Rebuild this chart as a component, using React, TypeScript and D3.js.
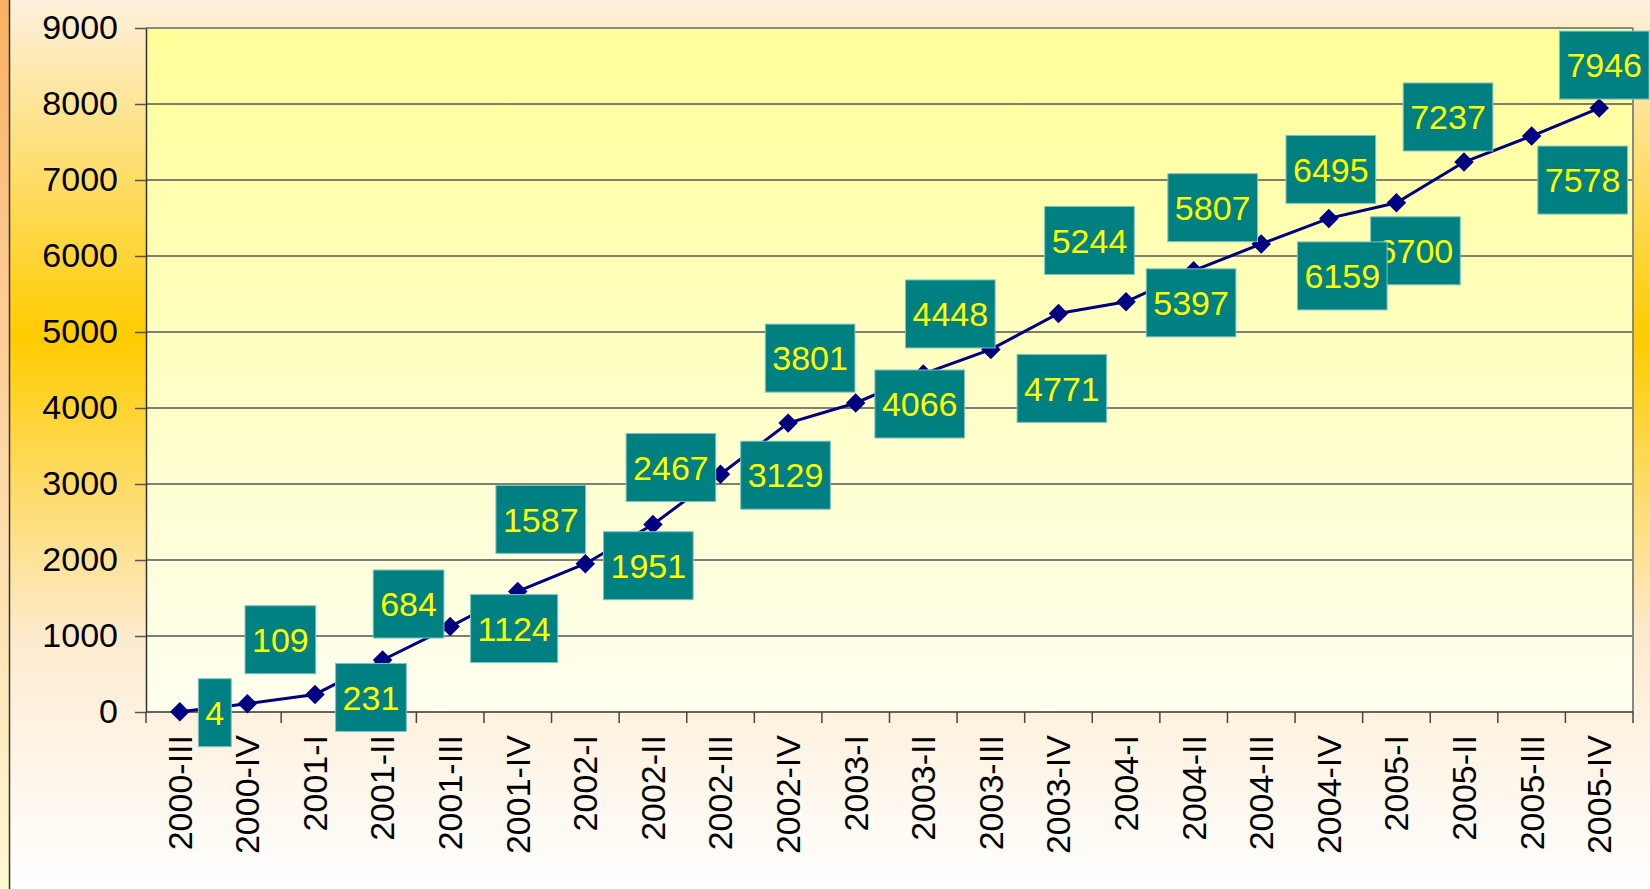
import { useEffect, useRef } from 'react'
import * as d3 from 'd3'

const quarters = [
  '2000-III', '2000-IV',
  '2001-I', '2001-II', '2001-III', '2001-IV',
  '2002-I', '2002-II', '2002-III', '2002-IV',
  '2003-I', '2003-II', '2003-III', '2003-IV',
  '2004-I', '2004-II', '2004-III', '2004-IV',
  '2005-I', '2005-II', '2005-III', '2005-IV',
]

const counts = [
  4, 109, 231, 684, 1124, 1587, 1951, 2467, 3129, 3801, 4066,
  4448, 4771, 5244, 5397, 5807, 6159, 6495, 6700, 7237, 7578, 7946,
]

const yTicks = [0, 1000, 2000, 3000, 4000, 5000, 6000, 7000, 8000, 9000]

// label box nudges (px) relative to the point, as placed by hand in the original
const labelNudge: [number, number][] = [
  [35, 1], [33, -64], [56, 3], [26, -56], [64, 2], [23, -72],
  [63, 2], [18, -57], [65, 1], [22, -65], [64, 1], [27, -60],
  [71, 39], [31, -73], [65, 1], [19, -63], [81, 32], [2, -49],
  [19, 48], [-16, -45], [51, 44], [5, -43],
]

const W = 1650
const H = 889
const FONT = '"Liberation Sans", Arial, Helvetica, sans-serif'

export default function App() {
  const svgRef = useRef<SVGSVGElement>(null)

  useEffect(() => {
    if (!svgRef.current) return
    const svg = d3.select(svgRef.current)
    svg.selectAll('*').remove()

    const margin = { top: 28, right: 17, bottom: 177, left: 146 }
    const innerW = W - margin.left - margin.right
    const innerH = H - margin.top - margin.bottom

    const defs = svg.append('defs')
    const bg = defs.append('linearGradient').attr('id', 'bg').attr('x1', 0).attr('x2', 0).attr('y1', 0).attr('y2', 1)
    bg.append('stop').attr('offset', '0').attr('stop-color', '#fdf0dc')
    bg.append('stop').attr('offset', '0.38').attr('stop-color', '#ffcc00')
    bg.append('stop').attr('offset', '0.72').attr('stop-color', '#fdebd0')
    bg.append('stop').attr('offset', '1').attr('stop-color', '#ffffff')

    const strip = defs.append('linearGradient').attr('id', 'strip').attr('x1', 0).attr('x2', 0).attr('y1', 0).attr('y2', 1)
    strip.append('stop').attr('offset', '0').attr('stop-color', '#fbb060')
    strip.append('stop').attr('offset', '0.3').attr('stop-color', '#fdc890')
    strip.append('stop').attr('offset', '1').attr('stop-color', '#fff8d0')

    const plotBg = defs.append('linearGradient').attr('id', 'plotbg').attr('x1', 0).attr('x2', 0).attr('y1', 0).attr('y2', 1)
    plotBg.append('stop').attr('offset', '0').attr('stop-color', '#ffff99')
    plotBg.append('stop').attr('offset', '1').attr('stop-color', '#fffff0')

    // page background
    svg.append('rect').attr('width', W).attr('height', H).attr('fill', 'url(#bg)')
    svg.append('rect').attr('width', 9).attr('height', H).attr('fill', 'url(#strip)')
    svg.append('line')
      .attr('x1', 9.5).attr('x2', 9.5).attr('y1', 0).attr('y2', H)
      .attr('stroke', '#333').attr('stroke-width', 1.5)

    const g = svg.append('g').attr('transform', `translate(${margin.left},${margin.top})`)

    const x = d3.scaleBand().domain(quarters).range([0, innerW]).padding(0)
    const y = d3.scaleLinear().domain([0, 9000]).range([innerH, 0])

    g.append('rect').attr('width', innerW).attr('height', innerH).attr('fill', 'url(#plotbg)')

    // Grid
    g.selectAll('.grid')
      .data(yTicks.filter(t => t > 0 && t < 9000))
      .join('line')
      .attr('x1', 0).attr('x2', innerW)
      .attr('y1', d => y(d)).attr('y2', d => y(d))
      .attr('stroke', '#555').attr('stroke-width', 1.5)

    // frame top / right
    g.append('line').attr('x1', 0).attr('x2', innerW).attr('y1', 0).attr('y2', 0)
      .attr('stroke', '#888').attr('stroke-width', 2)
    g.append('line').attr('x1', innerW).attr('x2', innerW).attr('y1', 0).attr('y2', innerH)
      .attr('stroke', '#888').attr('stroke-width', 2)

    // Y axis
    const yAxis = g.append('g')
      .call(d3.axisLeft(y).tickValues(yTicks).tickFormat(d3.format('d')).tickSize(11).tickSizeOuter(0).tickPadding(17))
    yAxis.select('.domain').attr('stroke', '#333').attr('stroke-width', 1.5)
    yAxis.selectAll('.tick line').attr('stroke', '#555').attr('stroke-width', 1.5)
    yAxis.selectAll('.tick text')
      .attr('fill', '#000').attr('font-size', 34).attr('font-family', FONT)

    // X axis
    g.append('line').attr('x1', 0).attr('x2', innerW).attr('y1', innerH).attr('y2', innerH)
      .attr('stroke', '#333').attr('stroke-width', 1.5)
    g.selectAll('.xtick')
      .data(d3.range(quarters.length + 1))
      .join('line')
      .attr('x1', i => i * x.step()).attr('x2', i => i * x.step())
      .attr('y1', innerH).attr('y2', innerH + 11)
      .attr('stroke', '#444').attr('stroke-width', 1.5)
    g.selectAll('.xlab')
      .data(quarters)
      .join('text')
      .attr('transform', d => `translate(${(x(d) ?? 0) + x.bandwidth() / 2},${innerH + 23}) rotate(-90)`)
      .attr('dy', '0.35em')
      .attr('text-anchor', 'end')
      .attr('fill', '#000')
      .attr('font-size', 34)
      .attr('font-family', FONT)
      .text(d => d)

    const px = (i: number) => (x(quarters[i]) ?? 0) + x.bandwidth() / 2

    // Line
    const line = d3.line<number>().x((_, i) => px(i)).y(d => y(d))
    g.append('path')
      .datum(counts)
      .attr('d', line)
      .attr('fill', 'none')
      .attr('stroke', '#000080')
      .attr('stroke-width', 3)

    // Markers
    const diamond = d3.symbol().type(d3.symbolSquare).size(190)
    g.selectAll('.pt')
      .data(counts)
      .join('path')
      .attr('d', diamond)
      .attr('transform', (d, i) => `translate(${px(i)},${y(d)}) rotate(45)`)
      .attr('fill', '#000080')

    // Data labels (drawn last-first so earlier ones sit on top, as in the original)
    const labels = g.append('g')
    counts.map((v, i) => i).reverse().forEach(i => {
      const v = counts[i]
      const [dx, dy] = labelNudge[i]
      const cx = px(i) + dx
      const cy = y(v) + dy
      const lg = labels.append('g').attr('transform', `translate(${cx},${cy})`)
      const t = lg.append('text')
        .attr('text-anchor', 'middle')
        .attr('dy', '0.36em')
        .attr('fill', '#ffff00')
        .attr('font-size', 34)
        .attr('font-family', FONT)
        .text(String(v))
      const tw = (t.node() as SVGTextElement).getComputedTextLength()
      const bw = tw + 14
      const bh = 68
      lg.insert('rect', 'text')
        .attr('x', -bw / 2).attr('y', -bh / 2)
        .attr('width', bw).attr('height', bh)
        .attr('fill', '#008080')
        .attr('stroke', '#7fc4c0').attr('stroke-width', 1)
    })
  }, [])

  return (
    <div style={{ position: 'absolute', left: 0, top: 0, width: W, height: H }}>
      <svg ref={svgRef} width={W} height={H} style={{ display: 'block' }} />
    </div>
  )
}
